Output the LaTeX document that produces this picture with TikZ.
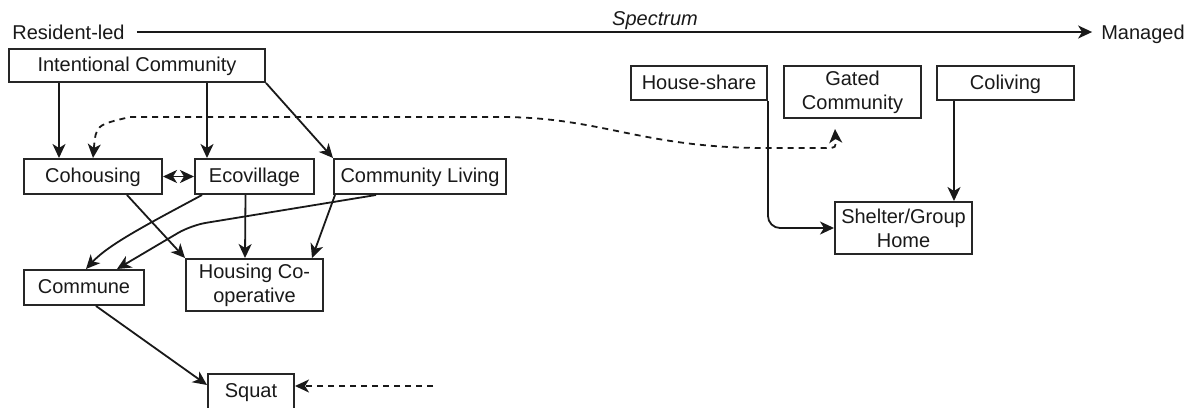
\documentclass[tikz,border=0pt]{standalone}
\usepackage{fontspec}
\setmainfont{Liberation Sans}
\usetikzlibrary{arrows.meta}
\begin{document}
\begin{tikzpicture}[x=1pt,y=-1pt,
  every node/.style={font=\fontsize{20}{24}\selectfont},
  box/.style={draw=black!85, line width=2pt, inner sep=0pt, align=center, text=black!90},
  one/.style={text depth=1.5pt},
  lbl/.style={inner sep=0pt, text=black!90},
  conn/.style={line width=1.8pt, draw=black!90},
  arr/.style={conn, -{Stealth[length=14pt,width=13pt,inset=4pt]}},
  darr/.style={conn, {Stealth[length=14pt,width=13pt,inset=4pt]}-{Stealth[length=14pt,width=13pt,inset=4pt]}},
  dash6/.style={dash pattern=on 6pt off 5pt}
]
\useasboundingbox (0,0) rectangle (1194,407);
% spectrum
\node[lbl, text depth=0pt, text height=14.3pt] (rl) at (68.5,32) {Resident-led};
\node[lbl, text depth=0pt, text height=14.3pt] (mg) at (1143,32) {Managed};
\node[lbl, font=\fontsize{20}{24}\selectfont\itshape] (sp) at (655,20.5) {Spectrum};
\draw[arr, shorten <=12pt, shorten >=9pt] (rl.east) -- (mg.west);
% nodes
\node[box, one, minimum width=256, minimum height=33] (ic) at (137,65.5) {Intentional Community};
\node[box, one, minimum width=138, minimum height=35] (coh) at (93,176.5) {Cohousing};
\node[box, one, minimum width=119, minimum height=35] (eco) at (254.5,176.5) {Ecovillage};
\node[box, one, minimum width=172, minimum height=35] (cl) at (420,176.5) {Community Living};
\node[box, one, minimum width=120, minimum height=35] (com) at (84,287.5) {Commune};
\node[box, minimum width=137, minimum height=52] (hc) at (254.5,285) {Housing Co-\\operative};
\node[box, one, minimum width=86, minimum height=35] (sq) at (251,391.5) {Squat};
\node[box, one, minimum width=136, minimum height=34] (hs) at (699,83) {House-share};
\node[box, minimum width=137, minimum height=52] (gc) at (852.5,92) {Gated\\Community};
\node[box, one, minimum width=137, minimum height=34] (cv) at (1005.5,83) {Coliving};
\node[box, minimum width=137, minimum height=52] (sh) at (903.5,228) {Shelter/Group\\Home};
\coordinate (sqsrc) at (433,386);
% edges
\draw[arr] ([xshift=51]ic.south west) -- ([xshift=36]coh.north west);
\draw[arr] ([xshift=199]ic.south west) -- ([xshift=13]eco.north west);
\draw[arr] (ic.south east) -- (cl.north west);
\draw[darr] (coh.east) -- (eco.west);
\draw[arr] ([xshift=104]coh.south west) -- (hc.north west);
\draw[arr] ([xshift=8]eco.south west) .. controls +(-52,28) and +(23,-25) .. ([xshift=63]com.north west);
\draw[arr] ([xshift=51.5]eco.south west) -- ([xshift=60]hc.north west);
\draw[arr, rounded corners=15pt] ([xshift=43]cl.south west) -- (191,225.3) -- ([xshift=94]com.north west);
\draw[arr] ([xshift=2]cl.south west) -- ([xshift=127]hc.north west);
\draw[arr] ([xshift=73]com.south west) -- ([yshift=6.5]sq.west);
\draw[arr, dash6] (sqsrc) -- ([yshift=5.5]sq.east);
\draw[darr, dash6] ([xshift=70]coh.north west) .. controls (96,125) .. (130,117) -- (500,117)
   .. controls (600,117) and (640,147) .. (760,148) -- (826,148)
   .. controls (836,148) .. ([xshift=52,yshift=-10]gc.south west);
\draw[arr, rounded corners=12pt] (hs.south east) |- (sh.west);
\draw[arr] ([xshift=18]cv.south west) -- ([xshift=120]sh.north west);
\end{tikzpicture}
\end{document}
